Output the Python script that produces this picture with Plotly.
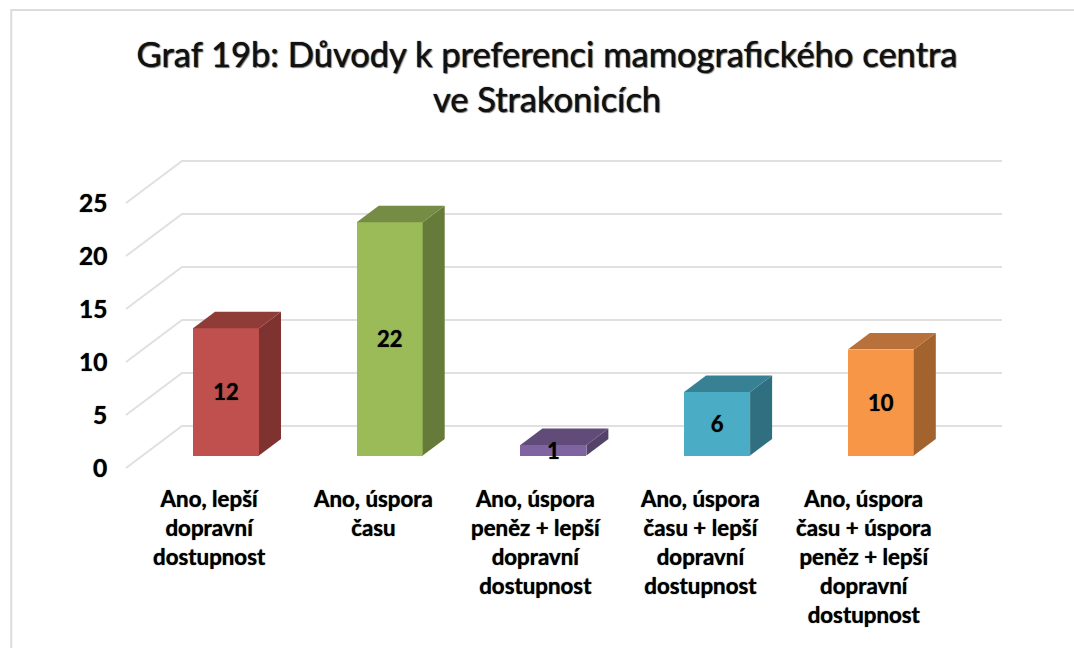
import plotly.graph_objects as go

title = "Graf 19b: Důvody k preferenci mamografického centra<br>ve Strakonicích"
categories = [
    "Ano, lepší<br>dopravní<br>dostupnost",
    "Ano, úspora<br>času",
    "Ano, úspora<br>peněz + lepší<br>dopravní<br>dostupnost",
    "Ano, úspora<br>času + lepší<br>dopravní<br>dostupnost",
    "Ano, úspora<br>času + úspora<br>peněz + lepší<br>dopravní<br>dostupnost",
]
values = [12, 22, 1, 6, 10]
y_ticks = [0, 5, 10, 15, 20, 25]
front_colors = ["#C0504D", "#9BBB59", "#8064A2", "#4BACC6", "#F79646"]
side_colors = ["#7F3330", "#667B3A", "#55426B", "#2F6F80", "#A3632E"]
top_colors = ["#8F3C39", "#748C43", "#604B79", "#388195", "#B9713B"]

W, H = 1074, 648
PX_PER_CAT = 163.7
PX_PER_UNIT = 10.6
X0_PX = 226
Y0_PX = 455.5
BAR_W = 66 / PX_PER_CAT
DX = 22 / PX_PER_CAT
DY = 16.5 / PX_PER_UNIT
GRID_FRONT_X = (126 - X0_PX) / PX_PER_CAT
GRID_BACK_X = (182 - X0_PX) / PX_PER_CAT
GRID_END_X = (1002 - X0_PX) / PX_PER_CAT
GRID_FRONT_DY = (Y0_PX - 468) / PX_PER_UNIT
GRID_BACK_DY = (Y0_PX - 426) / PX_PER_UNIT
TICK_X = (109 - X0_PX) / PX_PER_CAT
TICK_DY = 0.5 / PX_PER_UNIT
CAT_SHIFT = -17 / PX_PER_CAT
CAT_Y = (Y0_PX - 482.5) / PX_PER_UNIT
LABEL_DY = -3 / PX_PER_UNIT

FONT = "Lato, Carlito, sans-serif"
HALO = "0 0 1px #222222"
fig = go.Figure()

xs = list(range(len(values)))
fig.add_trace(go.Bar(x=xs, y=values, width=BAR_W, marker=dict(color=front_colors, line=dict(width=0)),
                     hoverinfo="skip", showlegend=False))

for i, v in enumerate(values):
    l, r = i - BAR_W / 2, i + BAR_W / 2
    fig.add_trace(go.Scatter(
        x=[r, r + DX, r + DX, r, r], y=[0, DY, v + DY, v, 0], mode="lines", fill="toself",
        fillcolor=side_colors[i], line=dict(width=0), hoverinfo="skip", showlegend=False))
    fig.add_trace(go.Scatter(
        x=[l, l + DX, r + DX, r, l], y=[v, v + DY, v + DY, v, v], mode="lines", fill="toself",
        fillcolor=top_colors[i], line=dict(width=0), hoverinfo="skip", showlegend=False))

fig.add_trace(go.Scatter(
    x=xs, y=[v / 2 + LABEL_DY for v in values], mode="text", text=[str(v) for v in values],
    textposition="middle center",
    textfont=dict(family=FONT, size=22, color="#000000", weight="bold", shadow=HALO),
    hoverinfo="skip", showlegend=False))

shapes = []
for t in y_ticks:
    path = (f"M {GRID_FRONT_X} {t + GRID_FRONT_DY} L {GRID_BACK_X} {t + GRID_BACK_DY} "
            f"L {GRID_END_X} {t + GRID_BACK_DY}")
    shapes.append(dict(type="path", path=path, xref="x", yref="y", layer="below",
                       line=dict(color="#E0E0E0", width=2)))
# chart-area frame, open to the right and bottom like the cropped reference
shapes.append(dict(type="path", path="M 0.0105 0 L 0.0105 0.9846 L 1 0.9846", xref="paper", yref="paper",
                   layer="below", line=dict(color="#DCDCDC", width=2)))

annotations = []
for t in y_ticks:
    annotations.append(dict(x=TICK_X, y=t + GRID_FRONT_DY + TICK_DY, xref="x", yref="y", text=str(t),
                            showarrow=False, xanchor="right", yanchor="middle",
                            font=dict(family=FONT, size=24.5, color="#000000", weight="bold", shadow=HALO)))
for i, c in enumerate(categories):
    annotations.append(dict(x=i + CAT_SHIFT, y=CAT_Y, xref="x", yref="y", text=c, showarrow=False,
                            xanchor="center", yanchor="top", align="center",
                            font=dict(family=FONT, size=22.3, color="#000000", weight="bold", shadow=HALO)))

fig.update_layout(
    width=W, height=H, autosize=False,
    margin=dict(l=0, r=0, t=0, b=0),
    paper_bgcolor="white", plot_bgcolor="white",
    title=dict(text=title, x=547 / W, xanchor="center", y=1 - 67 / H, yanchor="middle",
               font=dict(family=FONT, size=34.5, color="#111111",
                         shadow="0 0 1px #111111, 1px 1px 1px #777777")),
    xaxis=dict(range=[-X0_PX / PX_PER_CAT, (W - X0_PX) / PX_PER_CAT], visible=False, fixedrange=True),
    yaxis=dict(range=[(Y0_PX - H) / PX_PER_UNIT, Y0_PX / PX_PER_UNIT], visible=False, fixedrange=True),
    shapes=shapes, annotations=annotations, bargap=0,
)
fig.write_html("out.html", config={"displayModeBar": False},
               post_script="document.body.style.margin='0';document.body.style.overflow='hidden';")
